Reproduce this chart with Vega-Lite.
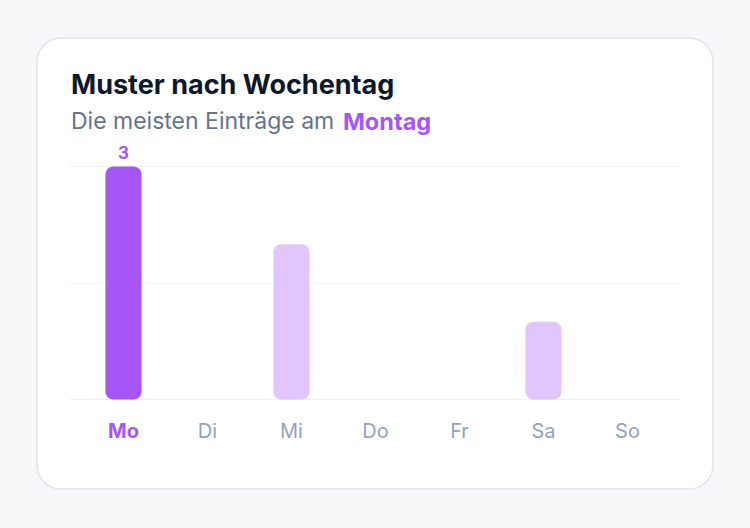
{
  "$schema": "https://vega.github.io/schema/vega-lite/v6.json",
  "width": 676,
  "height": 451,
  "autosize": "none",
  "padding": {"left": 37, "top": 38, "right": 37, "bottom": 39},
  "background": "#f8f8fb",
  "config": {
    "font": "Inter",
    "view": {"fill": "#ffffff", "stroke": "#e2e3ec", "strokeWidth": 1.5, "cornerRadius": 24}
  },
  "title": {
    "text": "Muster nach Wochentag",
    "subtitle": "Die meisten Einträge am",
    "anchor": "start",
    "frame": "group",
    "orient": "top",
    "offset": -97,
    "dx": 34,
    "font": "Inter",
    "fontSize": 27,
    "fontWeight": 700,
    "color": "#0f172a",
    "subtitleFont": "Inter",
    "subtitleFontSize": 23,
    "subtitleColor": "#64748b",
    "subtitlePadding": 11
  },
  "datasets": {
    "days": [
      {"day": "Mo", "count": 3},
      {"day": "Di", "count": 0},
      {"day": "Mi", "count": 2},
      {"day": "Do", "count": 0},
      {"day": "Fr", "count": 0},
      {"day": "Sa", "count": 1},
      {"day": "So", "count": 0}
    ],
    "grid": [
      {"g": 0},
      {"g": 1.5},
      {"g": 3}
    ],
    "note": [
      {"text": "Montag", "pos": 0.4475, "level": 3.47}
    ]
  },
  "encoding": {
    "y": {
      "type": "quantitative",
      "scale": {"domain": [0, 3], "range": [361.5, 128.5], "nice": false, "zero": false},
      "axis": null
    }
  },
  "layer": [
    {
      "layer": [
        {
          "data": {"name": "grid"},
          "mark": {"type": "rule", "color": "#eef0f4", "strokeWidth": 1},
          "encoding": {
            "x": {"datum": 0, "type": "quantitative", "scale": {"domain": [0, 1], "range": [33, 643]}, "axis": null},
            "x2": {"datum": 1},
            "y": {"field": "g", "type": "quantitative"}
          }
        },
        {
          "data": {"name": "note"},
          "mark": {"type": "text", "align": "left", "baseline": "alphabetic", "font": "Inter", "fontSize": 23.5, "fontWeight": 700, "color": "#a855f7"},
          "encoding": {
            "x": {"field": "pos", "type": "quantitative", "scale": {"domain": [0, 1], "range": [33, 643]}, "axis": null},
            "y": {"field": "level", "type": "quantitative"},
            "text": {"field": "text"}
          }
        }
      ]
    },
    {
      "data": {"name": "days"},
      "encoding": {
        "x": {
          "field": "day",
          "type": "nominal",
          "sort": null,
          "scale": {"domain": ["Mo", "Di", "Mi", "Do", "Fr", "Sa", "So"], "range": [44.5, 632.5], "paddingInner": 0.57, "paddingOuter": 0.285},
          "axis": {
            "title": null,
            "orient": "bottom",
            "offset": -89,
            "domain": false,
            "ticks": false,
            "tickSize": 0,
            "grid": false,
            "labelPadding": 31,
            "labelBaseline": "middle",
            "labelFont": "Inter",
            "labelFontSize": 20,
            "labelAngle": 0,
            "labelColor": {"expr": "datum.value == 'Mo' ? '#a855f7' : '#94a3b8'"},
            "labelFontWeight": {"expr": "datum.value == 'Mo' ? 700 : 400"}
          }
        }
      },
      "layer": [
        {
          "transform": [{"filter": "datum.count > 0"}],
          "mark": {"type": "bar", "cornerRadius": 8},
          "encoding": {
            "y": {"field": "count", "type": "quantitative"},
            "y2": {"datum": 0},
            "color": {
              "condition": {"test": "datum.count == 3", "value": "#a855f7"},
              "value": "#e0c6fc"
            }
          }
        },
        {
          "transform": [{"filter": "datum.count == 3"}],
          "mark": {"type": "text", "dy": -13, "baseline": "middle", "font": "Inter", "fontSize": 17, "fontWeight": 700, "color": "#a855f7"},
          "encoding": {
            "y": {"field": "count", "type": "quantitative"},
            "text": {"field": "count"}
          }
        }
      ]
    }
  ],
  "resolve": {"scale": {"x": "independent"}, "axis": {"x": "independent"}}
}
